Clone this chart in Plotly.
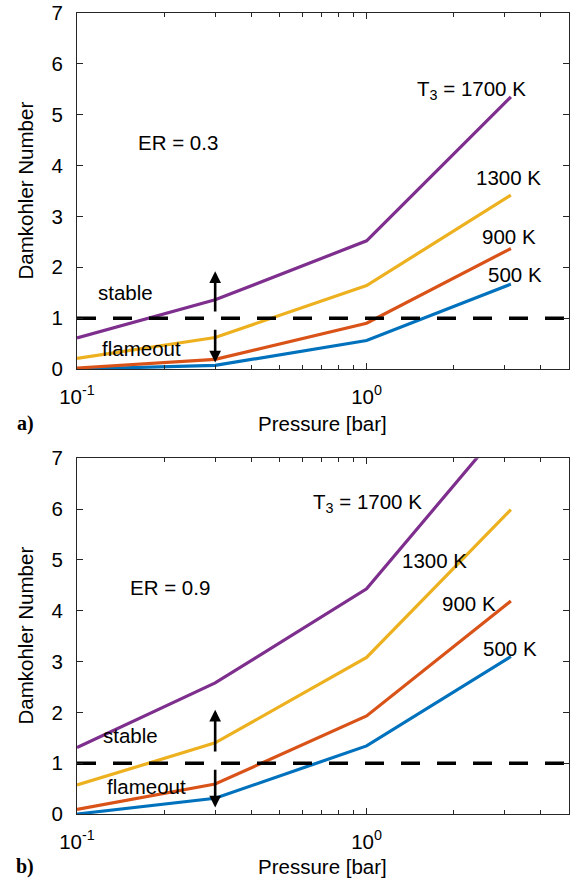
import math
import plotly.graph_objects as go

# ---------------- data ----------------
pressure = [0.1, 0.3, 1.0, 3.15]
temps = ["500 K", "900 K", "1300 K", "1700 K"]

# ER = 0.3
er03_500 = [0.00, 0.07, 0.56, 1.67]
er03_900 = [0.02, 0.19, 0.90, 2.37]
er03_1300 = [0.21, 0.62, 1.64, 3.42]
er03_1700 = [0.61, 1.36, 2.52, 5.35]

# ER = 0.9
er09_500 = [0.00, 0.31, 1.34, 3.10]
er09_900 = [0.09, 0.59, 1.93, 4.19]
er09_1300 = [0.57, 1.40, 3.08, 5.99]
er09_1700 = [1.31, 2.58, 4.43, 7.80]

threshold = 1.0
x_range = [0.1, 5.0]
y_ticks = [0, 1, 2, 3, 4, 5, 6, 7]
x_major = [0.1, 1.0]
x_major_text = ["10<sup>-1</sup>", "10<sup>0</sup>"]
x_minor = [0.2, 0.3, 0.4, 0.5, 0.6, 0.7, 0.8, 0.9, 2, 3, 4, 5]

line_labels_03 = ["500 K", "900 K", "1300 K", "T<sub>3</sub> = 1700 K"]
line_labels_09 = ["500 K", "900 K", "1300 K", "T<sub>3</sub> = 1700 K"]

colors = ["#0072BD", "#D95319", "#EDB120", "#7E2F8E"]
AX = "#262626"
FONT = "Liberation Sans, Arial, Helvetica, sans-serif"

W, H = 575, 882


def px(xp):
    return xp / W


def py(yp):
    return 1 - yp / H


fig = go.Figure()

panels = [
    ("x", "y", [er03_500, er03_900, er03_1300, er03_1700]),
    ("x2", "y2", [er09_500, er09_900, er09_1300, er09_1700]),
]

for xa, ya, series in panels:
    for vals, col, name in zip(series, colors, temps):
        fig.add_trace(go.Scatter(
            x=pressure, y=vals, mode="lines", name=name,
            line=dict(color=col, width=3.2), xaxis=xa, yaxis=ya,
            showlegend=False, cliponaxis=True, hoverinfo="skip"))
    fig.add_trace(go.Scatter(
        x=x_range, y=[threshold, threshold], mode="lines",
        line=dict(color="black", width=3.5, dash="19px,17px"),
        xaxis=xa, yaxis=ya, showlegend=False, hoverinfo="skip"))

xdom = [px(77), px(569)]
axis_common = dict(
    showline=True, linecolor=AX, linewidth=1.2, mirror="ticks",
    ticks="inside", tickcolor=AX, tickwidth=1.2, showgrid=False, zeroline=False,
    automargin=False,
    tickfont=dict(family=FONT, size=20.5, color="black"),
)

for i, (xa, ya) in enumerate([("xaxis", "yaxis"), ("xaxis2", "yaxis2")]):
    ydom = [py(369), py(13)] if i == 0 else [py(814), py(458.3)]
    fig.update_layout(**{
        xa: dict(axis_common, type="log", domain=xdom,
                 range=[math.log10(x_range[0]), math.log10(x_range[1])],
                 tickmode="array", tickvals=x_major, ticktext=x_major_text,
                 ticklen=6, ticklabelstandoff=9,
                 minor=dict(tickmode="array", tickvals=x_minor, ticks="inside",
                            ticklen=3.5, tickcolor=AX, tickwidth=1.2),
                 anchor="y" if i == 0 else "y2"),
        ya: dict(axis_common, domain=ydom, range=[0, 7],
                 tickmode="array", tickvals=y_ticks, ticklen=6,
                 ticklabelstandoff=9,
                 anchor="x" if i == 0 else "x2"),
    })

ann = []


def text(xp, yp, t, size=20.5, family=FONT, color="black"):
    ann.append(dict(x=px(xp), y=py(yp), xref="paper", yref="paper", text=t,
                    showarrow=False, xanchor="center", yanchor="middle",
                    font=dict(family=family, size=size, color=color)))


# axis titles
for yc in [191, 636]:
    ann.append(dict(x=px(24.5), y=py(yc), xref="paper", yref="paper",
                    text="Damkohler Number", textangle=-90, showarrow=False,
                    xanchor="center", yanchor="middle",
                    font=dict(family=FONT, size=20.5, color="black")))
text(322, 423, "Pressure [bar]")
text(322, 866.5, "Pressure [bar]")

# panel labels
text(25, 423, "<b>a)</b>", size=20, family="Liberation Serif, Times New Roman, serif")
text(25, 866, "<b>b)</b>", size=20, family="Liberation Serif, Times New Roman, serif")

# ER labels
text(178, 142, "ER = 0.3")
text(170, 587, "ER = 0.9")

# stable / flameout
text(125, 293, "stable")
text(141, 348, "flameout")
text(130, 735, "stable")
text(146, 786, "flameout")

# temperature labels
pos03 = [(515, 275), (509, 237), (508, 177), (471, 90)]
pos09 = [(510, 648), (469, 603), (434, 560), (367, 503)]
for (xp, yp), t in zip(pos03, line_labels_03):
    text(xp, yp, t)
for (xp, yp), t in zip(pos09, line_labels_09):
    text(xp, yp, t)

# arrows
arrow_x = math.log10(0.3)
arrows = [
    ("x", "y", 1.10, 1.92), ("x", "y", 0.80, 0.13),
    ("x2", "y2", 1.20, 2.05), ("x2", "y2", 0.90, 0.13),
]
for xa, ya, y0, y1 in arrows:
    ann.append(dict(x=arrow_x, y=y1, ax=arrow_x, ay=y0, xref=xa, yref=ya,
                    axref=xa, ayref=ya, text="", showarrow=True,
                    arrowhead=2, arrowsize=0.9, arrowwidth=2.6,
                    arrowcolor="black"))

fig.update_layout(
    width=W, height=H, margin=dict(l=0, r=0, t=0, b=0),
    paper_bgcolor="white", plot_bgcolor="white",
    annotations=ann, showlegend=False,
)

fig.write_html("out.html")
